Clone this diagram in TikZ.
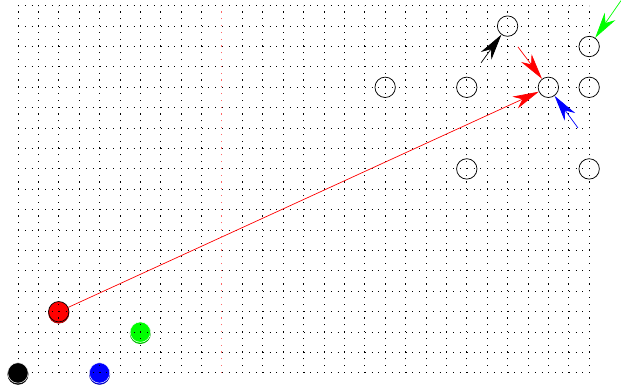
\documentclass[tikz,border=0pt]{standalone}
\usetikzlibrary{arrows.meta}
\begin{document}
\begin{tikzpicture}[x=20.4pt,y=20.4pt,
  gridline/.style={line width=0.9pt, dash pattern=on 1.1pt off 5.7pt, black},
  redline/.style={line width=1pt, dash pattern=on 1.2pt off 5.6pt, red!60},
  spot/.style={circle, draw=black, line width=0.75pt, minimum size=20.4pt, inner sep=0pt},
  piecebase/.style={circle, minimum size=20.4pt, inner sep=0pt, fill=#1, draw=#1!60!black, line width=0.6pt},
  piecetop/.style={circle, minimum size=20.4pt, inner sep=0pt, fill=#1, draw=white, line width=0.5pt},
  redtop/.style={circle, minimum size=20.4pt, inner sep=0pt, fill=red, draw=black, line width=0.7pt},
  mover/.style={-{Stealth[length=26pt,width=13pt,inset=8pt]}, line width=0.7pt}]
\useasboundingbox (-0.88,-0.735) rectangle (29.56,18.28);
% pieces (stacked look)
\node[piecebase=black] (kb) at ([yshift=-1.3pt]0,0) {};
\node[piecetop=black] (k) at (0,0) {};
\node[piecebase=blue] (bb) at ([yshift=-1.3pt]4,0) {};
\node[piecetop=blue] (b) at (4,0) {};
\node[piecebase=green] (gb) at ([yshift=-1.3pt]6,2) {};
\node[piecetop=green] (g) at (6,2) {};
\node[piecebase=red] (rb) at ([yshift=-1.3pt]2,3) {};
\node[redtop] (r) at (2,3) {};
% grid
\foreach \i in {0,...,9,11,12,...,28} \draw[gridline] (\i,0) -- (\i,18);
\foreach \j in {0,...,18} \draw[gridline] (0,\j) -- (28,\j);
\draw[redline] (10,0) -- (10,18);
% empty points
\node[spot] (c1814) at (18,14) {};
\node[spot] (c2214) at (22,14) {};
\node[spot] (c2614) at (26,14) {};
\node[spot] (c2814) at (28,14) {};
\node[spot] (c2210) at (22,10) {};
\node[spot] (c2810) at (28,10) {};
\node[spot] (c2417) at (24,17) {};
\node[spot] (c2816) at (28,16) {};
% arrows
\coordinate (tk) at (22.70,15.20);
\coordinate (tr) at (24.51,15.98);
\coordinate (tb) at (27.45,12.01);
\coordinate (tg) at (29.56,18.25);
\draw[mover, black] (tk) -- (c2417);
\draw[mover, red] (tr) -- (c2614);
\draw[mover, blue] (tb) -- (c2614);
\draw[mover, green] (tg) -- (c2816);
\draw[mover, red] (r) -- (c2614);
\end{tikzpicture}
\end{document}
